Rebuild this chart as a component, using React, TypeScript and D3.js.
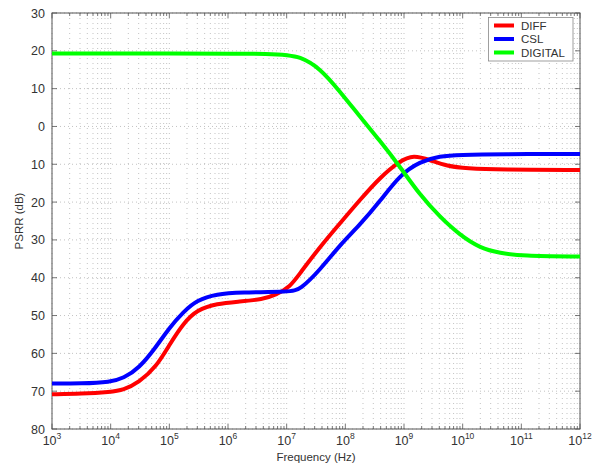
import React from "react";
import * as d3 from "d3";

const diffExp = [3, 3.5, 4, 4.215, 4.48, 4.78, 4.99, 5.24, 5.47, 5.81, 6.2, 6.59, 6.81, 7.06, 7.227, 7.57, 7.91, 8.25, 8.59, 8.93, 9.16, 9.45, 9.73, 10.07, 10.64, 12];
const diffVal = [-70.8, -70.7, -70.2, -69.7, -67.7, -63.5, -58, -52, -48.5, -46.8, -46.3, -45.7, -44.6, -42.4, -38.8, -31.8, -25.6, -19.4, -13.5, -9.1, -7.5, -8.9, -10.5, -11.1, -11.4, -11.5];

const cslExp = [3, 3.5, 4, 4.215, 4.48, 4.78, 4.99, 5.24, 5.47, 5.81, 6.2, 7.06, 7.227, 7.57, 7.91, 8.25, 8.59, 8.93, 9.27, 9.61, 9.95, 10.64, 12];
const cslVal = [-68, -68, -67.6, -66.6, -64, -58.2, -53.4, -49, -45.9, -44.3, -43.9, -43.7, -43.2, -37.9, -31.3, -26, -19.8, -12.8, -9.3, -7.8, -7.5, -7.3, -7.3];

const digExp = [3, 5, 6.9, 7.227, 7.57, 7.91, 8.25, 8.59, 8.93, 9.27, 9.61, 9.95, 10.3, 10.64, 11, 12];
const digVal = [19.3, 19.3, 19.3, 18.5, 15.4, 9.2, 2.6, -3.8, -10.6, -18.1, -23.9, -28.7, -32.2, -33.5, -34.2, -34.4];

const seriesNames = ["DIFF", "CSL", "DIGITAL"];
const seriesColors = ["#ff0000", "#0000ff", "#00ff00"];
const yTicks = [30, 20, 10, 0, -10, -20, -30, -40, -50, -60, -70, -80];
const xExponents = [3, 4, 5, 6, 7, 8, 9, 10, 11, 12];

export default function App() {
  const W = 600, H = 465;
  const left = 52, right = 580, top = 13, bottom = 429;
  const x = d3.scaleLog().domain([1e3, 1e12]).range([left, right]);
  const y = d3.scaleLinear().domain([-80, 30]).range([bottom, top]);

  const series = [
    { exp: diffExp, val: diffVal },
    { exp: cslExp, val: cslVal },
    { exp: digExp, val: digVal },
  ];
  const line = d3
    .line<[number, number]>()
    .x((d) => x(Math.pow(10, d[0])))
    .y((d) => y(d[1]))
    .curve(d3.curveBasis);

  const minorX: number[] = [];
  for (let e = 3; e < 12; e++) {
    for (let m = 1; m <= 9; m++) minorX.push(m * Math.pow(10, e));
  }
  minorX.push(1e12);

  const font = "'Liberation Sans', Arial, Helvetica, sans-serif";
  const textColor = "#333";

  return (
    <svg width={W} height={H} style={{ display: "block", position: "absolute", left: 0, top: 0 }} fontFamily={font}>
      <rect x={0} y={0} width={W} height={H} fill="#fff" />
      {/* grid */}
      {minorX.map((v, i) => (
        <line key={"gx" + i} x1={x(v)} x2={x(v)} y1={top} y2={bottom} stroke="#b4b4b4" strokeWidth={0.8} strokeDasharray="1,4" />
      ))}
      {yTicks.map((v, i) => (
        <line key={"gy" + i} x1={left} x2={right} y1={y(v)} y2={y(v)} stroke="#b4b4b4" strokeWidth={0.8} strokeDasharray="1,3" />
      ))}
      {/* ticks */}
      {minorX.map((v, i) => {
        const major = Math.abs(Math.log10(v) - Math.round(Math.log10(v))) < 1e-9;
        const len = major ? 5 : 3;
        return (
          <g key={"tx" + i} stroke="#555" strokeWidth={0.8}>
            <line x1={x(v)} x2={x(v)} y1={bottom} y2={bottom - len} />
            <line x1={x(v)} x2={x(v)} y1={top} y2={top + len} />
          </g>
        );
      })}
      {yTicks.map((v, i) => (
        <g key={"ty" + i} stroke="#555" strokeWidth={0.8}>
          <line x1={left} x2={left + 5} y1={y(v)} y2={y(v)} />
          <line x1={right} x2={right - 5} y1={y(v)} y2={y(v)} />
        </g>
      ))}
      {/* frame */}
      <rect x={left} y={top} width={right - left} height={bottom - top} fill="none" stroke="#555" strokeWidth={1} />
      {/* curves */}
      {series.map((s, i) => (
        <path
          key={"s" + i}
          d={line(s.exp.map((e, j) => [e, s.val[j]] as [number, number])) || ""}
          fill="none"
          stroke={seriesColors[i]}
          strokeWidth={4}
          strokeLinejoin="round"
        />
      ))}
      {/* y tick labels */}
      {yTicks.map((v, i) => (
        <text key={"yl" + i} x={left - 7} y={y(v) + 4.5} textAnchor="end" fontSize={12.5} fill={textColor}>
          {Math.abs(v)}
        </text>
      ))}
      {/* x tick labels */}
      {xExponents.map((e, i) => (
        <text key={"xl" + i} x={x(Math.pow(10, e))} y={bottom + 16} textAnchor="middle" fontSize={12.5} fill={textColor}>
          10
          <tspan dy={-6} fontSize={8.5}>{e}</tspan>
        </text>
      ))}
      {/* axis titles */}
      <text x={(left + right) / 2} y={461} textAnchor="middle" fontSize={11.5} fill={textColor}>
        Frequency (Hz)
      </text>
      <text transform={`translate(23, ${(top + bottom) / 2}) rotate(-90)`} textAnchor="middle" fontSize={11.5} fill={textColor}>
        PSRR (dB)
      </text>
      {/* legend */}
      <rect x={488.5} y={17.5} width={84.5} height={43.5} fill="#fff" stroke="#888" strokeWidth={0.8} />
      {seriesNames.map((n, i) => (
        <g key={"lg" + i}>
          <line x1={494} x2={514} y1={25.5 + i * 13.5} y2={25.5 + i * 13.5} stroke={seriesColors[i]} strokeWidth={4} />
          <text x={521} y={29.5 + i * 13.5} fontSize={11.5} fill={textColor}>
            {n}
          </text>
        </g>
      ))}
    </svg>
  );
}
